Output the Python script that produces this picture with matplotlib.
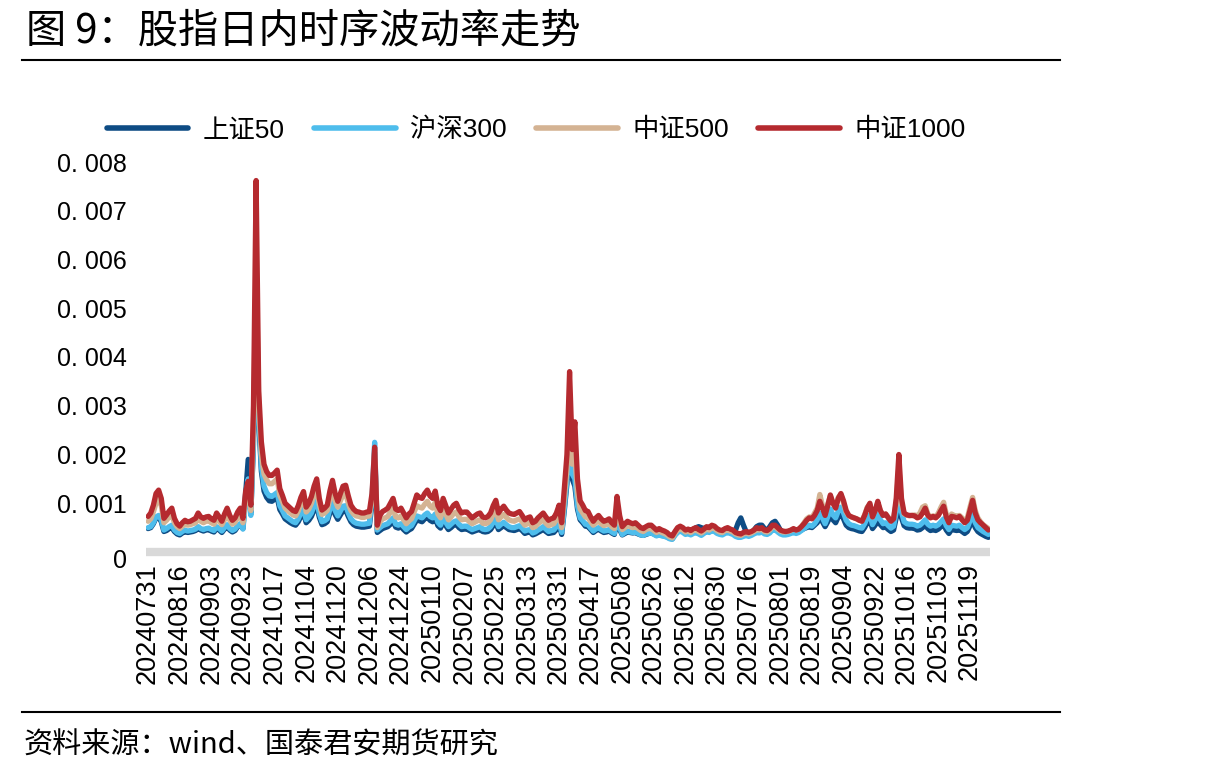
import matplotlib
matplotlib.use("Agg")
import matplotlib.pyplot as plt

# ---------------- data (values in units of 1e-5) ----------------
sz50 = [48,50,58,70,72,62,42,44,48,50,42,37,35,39,42,40,41,42,44,48,
        45,43,45,46,43,41,48,45,40,47,52,45,41,44,52,57,48,120,190,80,
        220,540,270,165,125,112,105,104,108,112,87,78,68,64,60,57,55,62,73,80,
        60,65,73,86,96,71,56,58,62,80,93,77,67,76,85,86,73,62,56,53,
        52,51,51,52,53,100,205,40,44,48,50,52,57,63,51,49,52,46,41,45,
        48,57,66,64,62,68,72,65,62,70,54,49,62,54,46,50,55,57,50,46,
        47,47,44,41,43,45,46,42,41,42,46,54,60,46,50,54,50,46,45,44,
        46,48,44,38,40,41,35,37,40,43,46,42,38,39,40,46,56,36,85,140,
        270,150,135,88,66,60,53,52,46,40,44,47,43,40,41,43,39,36,62,46,
        35,38,41,40,39,40,37,35,34,36,38,39,37,34,36,34,33,31,28,27,
        36,42,46,43,40,42,40,45,50,52,50,48,50,47,50,47,43,40,40,43,
        45,43,42,45,60,70,55,42,38,40,45,52,55,55,48,44,52,60,63,55,
        45,40,40,40,42,45,43,45,45,48,50,52,50,55,60,70,62,52,62,75,
        66,60,72,78,68,55,50,48,47,45,43,42,50,60,64,48,55,66,56,50,
        51,46,42,45,70,130,70,54,50,49,49,48,45,46,50,55,48,44,46,44,
        47,52,56,45,38,46,45,44,46,42,38,42,54,66,50,42,38,35,32,30]

hs300 = [50,52,60,72,75,66,45,48,52,55,45,40,38,42,45,43,44,45,47,52,
         48,46,48,49,46,44,52,48,43,50,56,48,44,47,54,58,47,100,150,75,
         230,560,280,175,135,122,115,114,118,122,95,85,74,70,66,62,60,68,80,88,
         66,72,80,95,105,78,62,64,68,88,102,85,74,84,94,95,80,68,62,59,
         58,57,57,58,59,110,225,45,50,54,56,58,64,70,57,55,58,52,46,51,
         54,64,74,72,70,76,80,73,70,78,61,55,70,61,52,57,62,64,57,52,
         53,53,49,46,48,50,52,47,46,47,52,61,68,52,57,61,56,52,50,50,
         52,54,49,43,45,46,39,41,45,48,52,47,42,44,45,52,62,40,90,150,
         290,160,150,95,70,64,57,56,49,43,47,50,46,43,44,46,41,38,72,50,
         36,40,43,41,40,41,38,35,34,37,38,39,36,33,35,33,32,30,27,26,
         34,40,43,40,36,38,35,38,40,37,34,38,42,40,44,42,38,36,35,38,
         40,38,36,32,30,30,32,34,32,34,37,40,39,41,37,36,39,45,46,41,
         37,35,35,36,38,40,38,40,44,48,52,55,53,58,66,80,70,58,72,88,
         76,70,84,92,80,65,58,55,54,52,50,49,58,70,76,56,66,80,66,58,
         60,54,49,53,82,150,82,62,58,57,57,56,53,55,60,66,57,53,55,53,
         56,62,68,54,46,55,54,53,55,50,46,50,64,78,60,50,46,42,39,36]

zz500 = [63,68,82,100,108,95,60,65,72,76,60,52,48,53,57,55,56,58,60,68,
         63,60,63,64,60,57,68,63,56,66,76,65,57,61,70,76,60,110,135,85,
         260,600,300,200,160,148,140,140,145,150,116,104,90,85,80,76,74,84,100,110,
         82,88,100,118,130,97,77,80,85,110,128,105,92,105,118,120,100,85,78,74,
         73,71,71,73,74,110,210,50,62,68,70,73,82,90,72,70,74,66,58,64,
         68,82,95,92,90,98,104,94,90,102,78,70,90,78,66,72,79,82,72,66,
         67,67,62,58,61,64,66,59,58,60,66,78,88,66,72,77,71,66,64,63,
         66,68,62,55,58,59,50,52,58,62,66,59,54,56,58,66,80,50,110,170,
         320,180,200,120,88,80,72,70,62,55,60,64,58,54,56,58,52,48,95,64,
         46,50,55,52,50,52,48,44,42,46,48,48,44,40,43,40,38,35,31,29,
         38,45,48,45,41,43,40,44,45,42,39,43,47,45,50,48,44,41,40,44,
         45,43,41,37,35,34,37,39,37,39,42,46,45,47,42,41,45,52,52,47,
         43,41,41,42,44,47,45,47,52,60,68,72,70,80,90,118,95,78,98,115,
         100,92,112,118,100,82,74,72,70,68,65,64,76,92,98,72,86,100,84,76,
         78,71,65,70,100,175,100,78,76,74,75,76,74,80,92,95,78,72,74,72,
         80,92,102,78,65,78,75,74,75,70,64,70,92,112,85,70,62,56,52,48]

zz1000 = [73,80,96,120,127,110,69,76,84,90,69,58,53,60,65,62,63,66,69,80,
          72,69,72,73,68,65,80,72,63,78,90,75,65,70,82,90,69,124,145,96,
          300,762,330,226,180,165,157,157,162,168,130,116,100,95,90,85,83,95,112,124,
          92,100,114,135,150,110,86,90,96,125,147,120,104,120,135,137,115,96,88,83,
          82,80,80,82,83,120,215,55,75,83,86,90,100,110,88,85,90,80,70,78,
          83,100,117,112,110,120,127,115,110,125,95,85,110,95,80,88,96,100,88,80,
          82,82,76,70,74,78,80,72,70,73,80,95,106,80,88,94,86,80,78,77,
          80,83,75,66,70,72,60,63,70,75,80,72,65,68,70,80,96,60,130,200,
          370,210,267,150,105,96,85,83,72,63,70,75,68,63,65,68,60,55,114,75,
          52,58,63,60,58,60,55,50,48,52,55,55,50,45,48,45,43,40,35,33,
          42,50,53,50,45,47,44,48,50,46,43,47,52,50,55,53,48,45,44,48,
          50,47,45,40,38,37,40,42,40,42,45,50,48,50,45,44,48,55,55,50,
          45,43,42,43,45,48,45,47,52,58,65,70,68,75,85,104,90,75,95,117,
          100,90,110,120,105,85,75,72,70,68,65,63,75,90,100,72,85,104,85,75,
          78,70,63,68,110,200,110,80,76,75,75,74,70,72,80,90,75,70,73,70,
          75,85,94,72,60,73,72,70,73,66,60,65,85,106,80,66,60,55,50,45]

tick_labels = ["20240731","20240816","20240903","20240923","20241017","20241104",
               "20241120","20241206","20241224","20250110","20250207","20250225",
               "20250313","20250331","20250417","20250508","20250526","20250612",
               "20250630","20250716","20250801","20250819","20250904","20250922",
               "20251016","20251103","20251119"]
tick_step = 12

series_names = ["上证50", "沪深300", "中证500", "中证1000"]
series_vals = [sz50, hs300, zz500, zz1000]
colors = ["#0e4c84", "#4ebdec", "#d4b393", "#b52a2f"]
yticks = [0, 0.001, 0.002, 0.003, 0.004, 0.005, 0.006, 0.007, 0.008]
ytick_labels = ["0", "0. 001", "0. 002", "0. 003", "0. 004", "0. 005", "0. 006", "0. 007", "0. 008"]

# ---------------- figure ----------------
W, H = 1213, 776
fig = plt.figure(figsize=(W / 100, H / 100), dpi=100)
def fx(px): return px / W
def fy(py): return 1 - py / H

CJK = ["Noto Sans CJK SC", "DejaVu Sans"]
LAT = ["Liberation Sans", "Noto Sans CJK SC", "DejaVu Sans"]

ax = fig.add_axes([fx(146), fy(552), fx(990) - fx(146), fy(162) - fy(552)])
n = max(len(s) for s in series_vals)
for name, vals, c in zip(series_names, series_vals, colors):
    ax.plot(range(len(vals)), [v * 1e-5 for v in vals], color=c, lw=3.8,
            label=name, solid_joinstyle="round", solid_capstyle="round")

ax.set_xlim(-0.8, n - 1 + 0.6)
ax.set_ylim(0, 0.008)
for s in ["top", "right", "left"]:
    ax.spines[s].set_visible(False)
ax.spines["bottom"].set_color("#d9d9d9")
ax.spines["bottom"].set_linewidth(6)
ax.spines["bottom"].set_capstyle("butt")
ax.spines["bottom"].set_zorder(0.5)

ax.set_xticks([i * tick_step for i in range(len(tick_labels))])
ax.set_xticklabels(tick_labels, rotation=90, fontsize=19.5, family=LAT)
ax.set_yticks(yticks)
ax.set_yticklabels(ytick_labels, fontsize=18, family=LAT)
ax.tick_params(axis="x", length=0, pad=8)
ax.tick_params(axis="y", length=0, pad=14)
# the zero label sits slightly lower in the original
import matplotlib.transforms as mtrans
ylabs = ax.get_yticklabels()
ylabs[0].set_transform(ylabs[0].get_transform() + mtrans.ScaledTranslation(0, -6 / 100, fig.dpi_scale_trans))

# legend
leg = fig.legend(loc="center", bbox_to_anchor=(fx(536), fy(130)), ncol=4,
                 frameon=False, handlelength=3.1, handletextpad=0.55,
                 columnspacing=1.1, prop={"family": LAT, "size": 19})
for line in leg.get_lines():
    line.set_linewidth(4)

# title and lines
fig.text(fx(26), fy(31), "图 9：股指日内时序波动率走势", fontsize=29,
         family=CJK, va="center", ha="left")
fig.add_artist(plt.Line2D([fx(22), fx(1060)], [fy(60), fy(60)], color="black", lw=1.5))
fig.add_artist(plt.Line2D([fx(22), fx(1060)], [fy(712), fy(712)], color="black", lw=1.5))
fig.text(fx(24), fy(746), "资料来源：wind、国泰君安期货研究", fontsize=21,
         family=CJK, va="center", ha="left")

fig.savefig("out.png", dpi=100)
